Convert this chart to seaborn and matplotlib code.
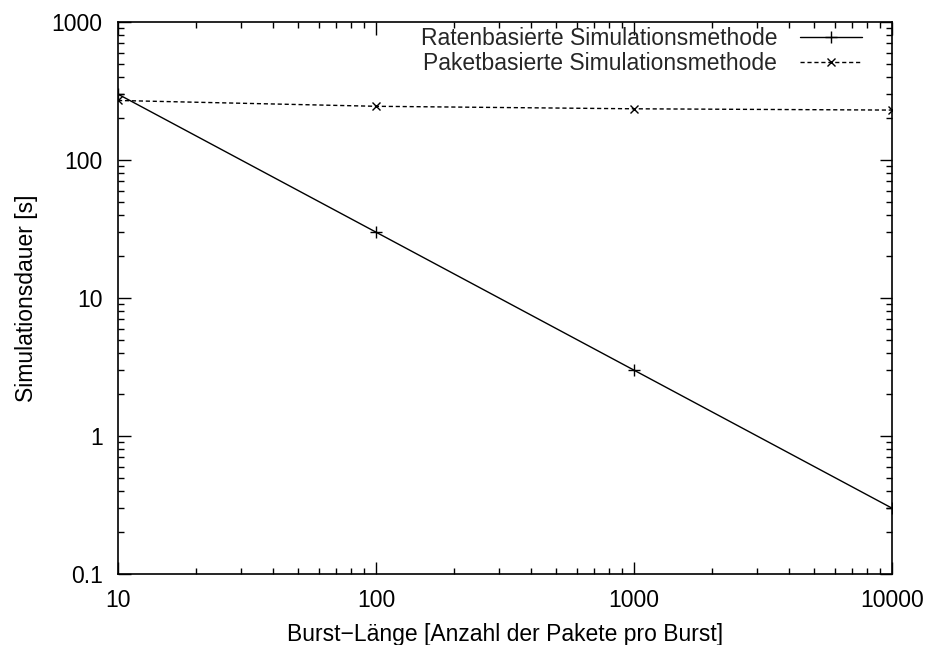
import matplotlib
matplotlib.use("Agg")
import matplotlib.pyplot as plt
import matplotlib.ticker as mticker
from matplotlib.lines import Line2D
import seaborn as sns
import pandas as pd

burst_len = [10, 100, 1000, 10000]
rate_based = [300, 30, 3, 0.3]
packet_based = [270, 245, 235, 230]
label_rate = "Ratenbasierte Simulationsmethode"
label_packet = "Paketbasierte Simulationsmethode"

sns.set_theme(style="white")
plt.rcParams["font.family"] = ["Liberation Sans", "DejaVu Sans"]

df_rate = pd.DataFrame({"x": burst_len, "y": rate_based})
df_packet = pd.DataFrame({"x": burst_len, "y": packet_based})

fig = plt.figure(figsize=(9.25, 6.45), dpi=100)
ax = fig.add_axes([118 / 925, 1 - 574 / 645, (892 - 118) / 925, (574 - 22) / 645])

sns.lineplot(data=df_rate, x="x", y="y", color="black", linewidth=1.0,
             marker="+", markersize=9, markeredgewidth=1.0,
             markeredgecolor="black", ax=ax)
sns.lineplot(data=df_packet, x="x", y="y", color="black", linewidth=1.0,
             linestyle=(0, (3, 2)), marker="x", markersize=6,
             markeredgewidth=1.0, markeredgecolor="black", ax=ax)

ax.set_xscale("log")
ax.set_yscale("log")
ax.set_xlim(10, 10000)
ax.set_ylim(0.1, 1000)

fmt = mticker.FuncFormatter(lambda v, p: f"{v:g}")
ax.xaxis.set_major_formatter(fmt)
ax.yaxis.set_major_formatter(fmt)
ax.xaxis.set_minor_formatter(mticker.NullFormatter())
ax.yaxis.set_minor_formatter(mticker.NullFormatter())
ax.xaxis.set_minor_locator(mticker.LogLocator(base=10, subs=range(2, 10)))
ax.yaxis.set_minor_locator(mticker.LogLocator(base=10, subs=range(2, 10)))

ax.tick_params(which="both", direction="in", top=True, right=True,
               bottom=True, left=True, color="black", labelsize=16.5,
               labelcolor="black")
ax.tick_params(which="major", length=9, width=1)
ax.tick_params(which="minor", length=4.5, width=1)
ax.tick_params(axis="x", which="major", pad=11)
ax.tick_params(axis="y", which="major", pad=11)
for s in ax.spines.values():
    s.set_color("black")
    s.set_linewidth(1.2)

ax.set_xlabel("Burst\u2212Länge [Anzahl der Pakete pro Burst]", fontsize=16.5,
              color="black", labelpad=8)
ax.set_ylabel("Simulationsdauer [s]", fontsize=16.5, color="black", labelpad=10)

handles = [
    Line2D([], [], color="black", lw=1.0, marker="+", markersize=9),
    Line2D([], [], color="black", lw=1.0, ls=(0, (3, 2)), marker="x", markersize=6),
]
ax.legend(handles, [label_rate, label_packet], loc="upper right",
          frameon=False, markerfirst=False, fontsize=16.5, handlelength=2.7,
          handletextpad=1.0, labelspacing=0.08, borderaxespad=0.0,
          bbox_to_anchor=(0.973, 1.007))

fig.savefig("out.png", dpi=100)
